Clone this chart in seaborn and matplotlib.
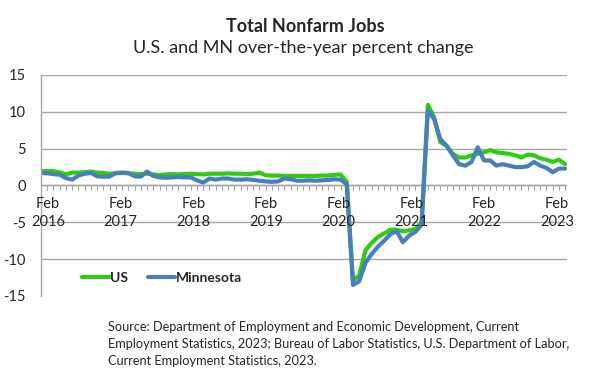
import matplotlib
matplotlib.use("Agg")
import matplotlib.pyplot as plt
import seaborn as sns
import pandas as pd
import numpy as np

# Monthly over-the-year percent change, Feb 2016 .. Feb 2023 (85 months)
us_values = [
    1.95, 1.95, 1.95, 1.8, 1.5, 1.75, 1.75, 1.8, 1.9, 1.75, 1.7, 1.6,
    1.65, 1.7, 1.65, 1.6, 1.55, 1.6, 1.5, 1.4, 1.5, 1.55, 1.5, 1.55,
    1.6, 1.55, 1.5, 1.6, 1.6, 1.6, 1.65, 1.6, 1.6, 1.55, 1.6, 1.75,
    1.4, 1.35, 1.35, 1.3, 1.3, 1.3, 1.3, 1.3, 1.3, 1.35, 1.35, 1.45,
    1.5, 0.5, -12.9, -12.2, -8.8, -7.8, -7.0, -6.5, -6.0, -6.0, -6.2, -6.1,
    -5.9, -5.0, 10.95, 9.3, 5.9, 5.4, 4.3, 3.8, 3.8, 4.1, 4.3, 4.5,
    4.8, 4.5, 4.4, 4.3, 4.1, 3.8, 4.2, 4.1, 3.7, 3.5, 3.2, 3.5,
    2.9,
]
mn_values = [
    1.7, 1.65, 1.55, 1.45, 1.0, 0.8, 1.35, 1.6, 1.7, 1.25, 1.2, 1.2,
    1.7, 1.75, 1.7, 1.25, 1.2, 1.9, 1.3, 1.1, 1.05, 1.1, 1.15, 1.1,
    1.1, 0.7, 0.4, 0.95, 0.8, 0.95, 0.95, 0.8, 0.8, 0.85, 0.75, 0.65,
    0.55, 0.5, 0.55, 0.95, 0.85, 0.65, 0.65, 0.7, 0.65, 0.7, 0.75, 0.85,
    0.8, 0.2, -13.5, -13.0, -10.5, -9.3, -8.3, -7.5, -6.6, -6.2, -7.7, -6.8,
    -6.3, -5.3, 10.2, 9.0, 6.3, 5.4, 4.1, 2.9, 2.7, 3.2, 5.2, 3.4,
    3.4, 2.7, 2.9, 2.7, 2.5, 2.5, 2.6, 3.2, 2.7, 2.4, 1.8, 2.3,
    2.3,
]
series_names = ["US", "Minnesota"]
tick_years = ["2016", "2017", "2018", "2019", "2020", "2021", "2022", "2023"]
y_ticks = [15, 10, 5, 0, -5, -10, -15]

months = np.arange(len(us_values))
df = pd.DataFrame({
    "month": np.concatenate([months, months]),
    "value": us_values + mn_values,
    "series": ["US"] * len(us_values) + ["Minnesota"] * len(mn_values),
})

sns.set_theme(style="white")
plt.rcParams["font.family"] = ["Lato", "DejaVu Sans"]

fig = plt.figure(figsize=(5.89, 3.86), dpi=100)
ax = fig.add_axes([41 / 589, 1 - 296 / 386, (567 - 41) / 589, (296 - 75) / 386])

palette = {"US": "#2DCC12", "Minnesota": "#4A7EBB"}
sns.lineplot(data=df, x="month", y="value", hue="series", hue_order=series_names,
             palette=palette, linewidth=3.0, ax=ax, legend=True)

ax.set_xlim(0, 84.3)
ax.set_ylim(-15, 15)
ax.set_yticks(y_ticks)
ax.set_yticklabels([str(t) for t in y_ticks], fontsize=10.5)
ax.tick_params(axis="y", length=0, pad=11)
for yv in y_ticks:
    if yv != -15:
        ax.axhline(yv, color="#A6A6A6", linewidth=1.0, zorder=0)
ax.axhline(0, color="#A6A6A6", linewidth=1.0, zorder=0.5)

# x axis: month ticks on the zero line and two-line labels
ax.set_xticks([])
ax.set_xlabel("")
ax.set_ylabel("")
for i in months:
    ax.plot([i, i], [0, -0.55], color="#A6A6A6", linewidth=0.8, zorder=0.5)
for k, yr in enumerate(tick_years):
    xpos = 1.12 + 11.65 * k
    ax.text(xpos, -2.45, "Feb", ha="center", va="center", fontsize=10.5)
    ax.text(xpos, -5.0, yr, ha="center", va="center", fontsize=10.5)

for side in ["top", "right", "bottom"]:
    ax.spines[side].set_visible(False)
ax.spines["left"].set_color("#A6A6A6")
ax.spines["left"].set_linewidth(1.0)

handles, labels = ax.get_legend_handles_labels()
leg = ax.legend(handles, labels, loc="lower left", bbox_to_anchor=(0.055, 0.0),
                ncol=2, frameon=False, handlelength=2.0, handletextpad=0.0,
                columnspacing=1.4, prop={"weight": "bold", "size": 10})

fig.text(305 / 589, 1 - 27 / 386, "Total Nonfarm Jobs", ha="center", va="center",
         fontsize=13, fontweight="bold")
fig.text(303 / 589, 1 - 48 / 386, "U.S. and MN over-the-year percent change",
         ha="center", va="center", fontsize=13)

source = ("Source: Department of Employment and Economic Development, Current\n"
          "Employment Statistics, 2023; Bureau of Labor Statistics, U.S. Department of Labor,\n"
          "Current Employment Statistics, 2023.")
fig.text(108 / 589, 1 - 321 / 386, source, ha="left", va="top", fontsize=9.15,
         linespacing=1.5)

fig.savefig("out.png", dpi=100)
